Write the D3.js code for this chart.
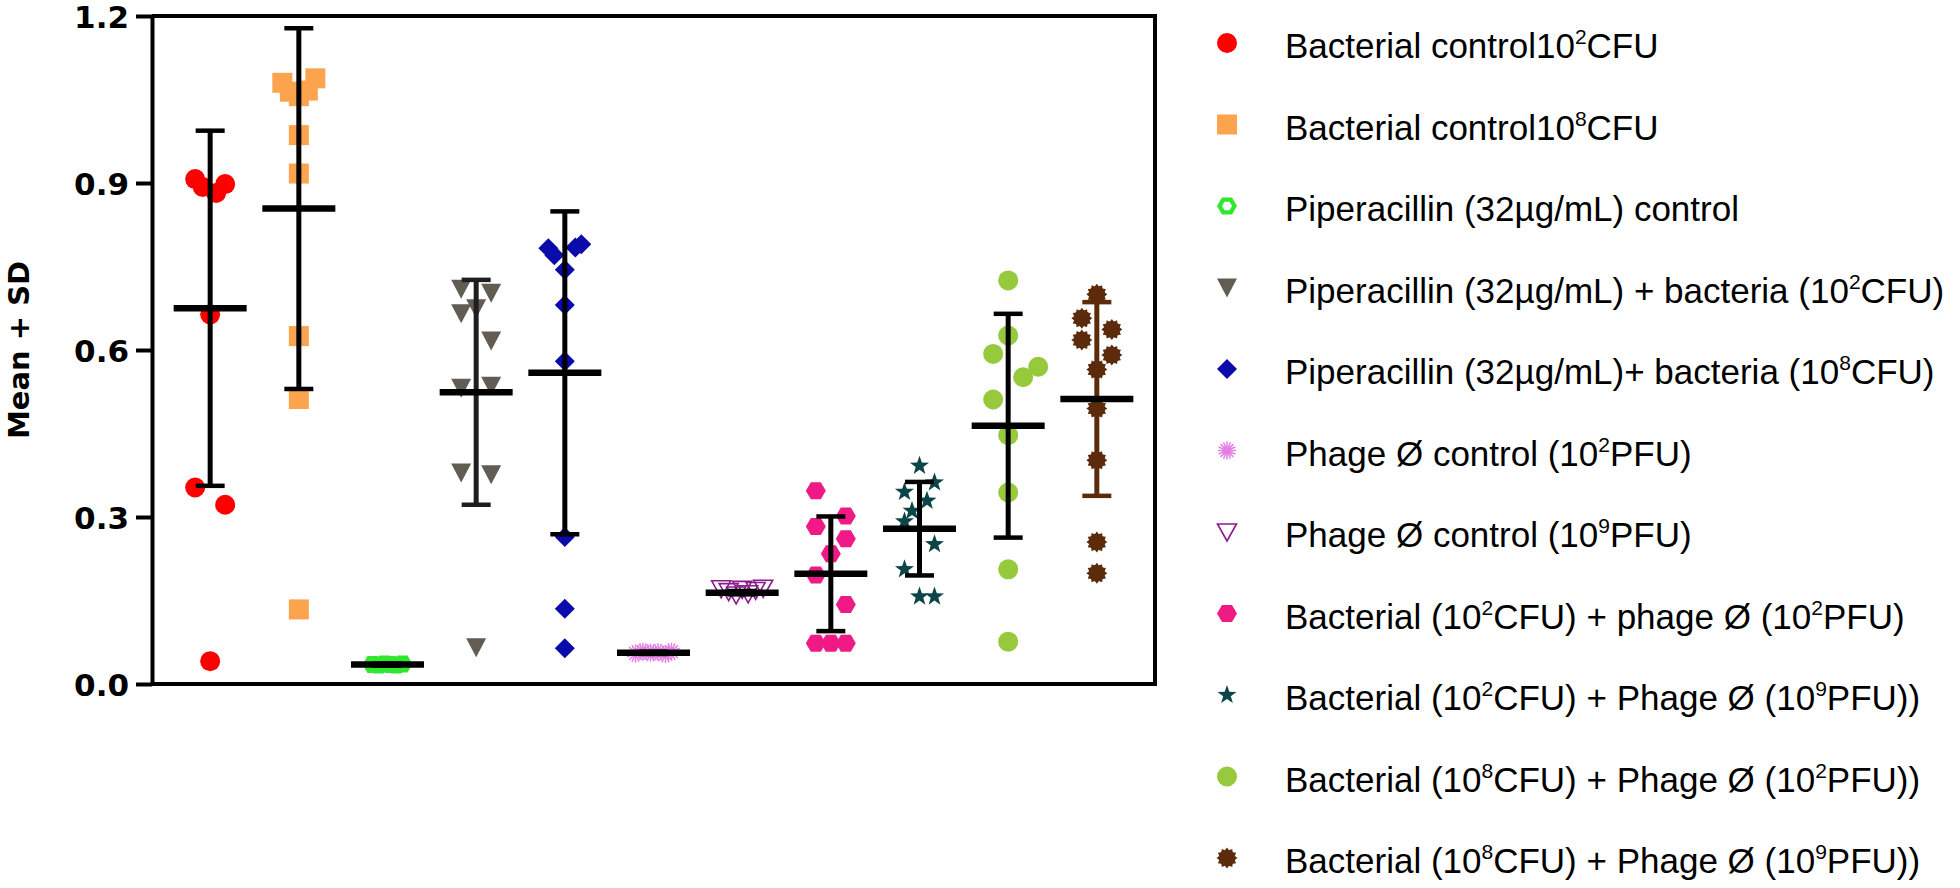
<!DOCTYPE html>
<html>
<head>
<meta charset="utf-8">
<script src="https://cdn.jsdelivr.net/npm/d3@7"></script>
<style>
  html, body { margin: 0; padding: 0; background: #fff; }
  svg { display: block; }
</style>
</head>
<body>
<svg id="chart" width="1960" height="888"></svg>
<script>
// ---------------- DATA ----------------
const groups = ["BC2", "BC8", "PipC", "PipB2", "PipB8", "Ph2", "Ph9", "B2P2", "B2P9", "B8P2", "B8P9"];
const legendLabels = [
  "Bacterial control10^2CFU",
  "Bacterial control10^8CFU",
  "Piperacillin (32µg/mL) control",
  "Piperacillin (32µg/mL) + bacteria (10^2CFU)",
  "Piperacillin (32µg/mL)+ bacteria (10^8CFU)",
  "Phage Ø control (10^2PFU)",
  "Phage Ø control (10^9PFU)",
  "Bacterial (10^2CFU) + phage Ø (10^2PFU)",
  "Bacterial (10^2CFU) + Phage Ø (10^9PFU))",
  "Bacterial (10^8CFU) + Phage Ø (10^2PFU))",
  "Bacterial (10^8CFU) + Phage Ø (10^9PFU))"
];
const means = [0.675, 0.854, 0.035, 0.524, 0.559, 0.056, 0.164, 0.198, 0.279, 0.464, 0.512];
const sds   = [0.319, 0.324, 0.002, 0.202, 0.290, 0.002, 0.003, 0.103, 0.084, 0.201, 0.174];
const yTicks = [0, 0.3, 0.6, 0.9, 1.2];

// points: [value, column slot]
const ptsBC2  = [[0.907,-1],[0.893,-0.5],[0.882,0.4],[0.898,1],[0.664,0],[0.353,-1],[0.322,1],[0.041,0]];
const ptsBC8  = [[1.080,-1.1],[1.064,-0.6],[1.056,0],[1.066,0.6],[1.088,1.1],[0.986,0],[0.917,0],[0.625,0],[0.512,0],[0.134,0]];
const ptsPipC = [[0.035,-1],[0.034,-0.6],[0.036,-0.2],[0.035,0.2],[0.034,0.6],[0.036,1]];
const ptsPipB2= [[0.710,-1],[0.703,1],[0.666,-1],[0.675,0],[0.617,1],[0.532,-1],[0.536,1],[0.380,-1],[0.377,1],[0.066,0]];
const ptsPipB8= [[0.783,-1.1],[0.770,-0.7],[0.784,0.7],[0.790,1.1],[0.744,0],[0.681,0],[0.580,0],[0.264,0],[0.135,0],[0.064,0]];
const ptsPh2  = [[0.055,-1.2],[0.058,-0.7],[0.056,-0.2],[0.057,0.3],[0.054,0.8],[0.058,1.2]];
const ptsPh9  = [[0.171,-1.4],[0.166,-0.9],[0.160,-0.4],[0.170,0],[0.162,0.4],[0.168,0.9],[0.172,1.4]];
const ptsB2P2 = [[0.347,-1],[0.302,1],[0.283,-1],[0.261,1],[0.234,0],[0.196,-1],[0.143,1],[0.073,-1],[0.073,0],[0.073,1]];
const ptsB2P9 = [[0.392,0],[0.362,1],[0.345,-1],[0.329,0.5],[0.311,-0.5],[0.292,-1],[0.251,1],[0.206,-1],[0.157,0],[0.157,1]];
const ptsB8P2 = [[0.725,0],[0.626,0],[0.593,-1],[0.570,2],[0.551,1],[0.511,-1],[0.447,0],[0.344,0],[0.206,0],[0.076,0]];
const ptsB8P9 = [[0.700,0],[0.657,-1],[0.637,1],[0.618,-1],[0.591,1],[0.565,0],[0.495,0],[0.402,0],[0.255,0],[0.199,0]];
const points = [ptsBC2, ptsBC8, ptsPipC, ptsPipB2, ptsPipB8, ptsPh2, ptsPh9, ptsB2P2, ptsB2P9, ptsB8P2, ptsB8P9];

// ---------------- STYLE ----------------
const symbols = ["circle","square","hexhole","tridown","diamond","asterisk","triopen","hexagon","star","circle","gear"];
const colors  = ["#ff0000","#fba34d","#2de82d","#625c53","#0b0bab","#e57ee5","#8b1a8b","#f01a86","#0b4545","#97c93c","#5c2b0b"];
const barColors = ["#000","#000","#000","#1e1e1e","#000","#000","#000","#000","#000","#000","#5c2b0b"];

const L = 152, R = 1155, T = 16, B = 684;
const svg = d3.select("#chart");

const x = d3.scalePoint().domain(groups).range([L, R]).padding(0.656);
const y = d3.scaleLinear().domain([0, 1.2]).range([B, T]);
const colW = 15;

function hexPts(rx, ry) {
  return [[-rx,0],[-rx/2,-ry],[rx/2,-ry],[rx,0],[rx/2,ry],[-rx/2,ry]];
}
function poly(p) { return "M" + p.map(d => d.join(",")).join("L") + "Z"; }
function starPts(n, ro, ri, rot) {
  const p = [];
  for (let i = 0; i < 2*n; i++) {
    const r = i % 2 ? ri : ro;
    const a = rot + i * Math.PI / n;
    p.push([r*Math.sin(a), -r*Math.cos(a)]);
  }
  return p;
}

function drawSymbol(g, type, color) {
  switch (type) {
    case "circle":
      g.append("circle").attr("r", 10).attr("fill", color); break;
    case "square":
      g.append("rect").attr("x",-10).attr("y",-10).attr("width",20).attr("height",20).attr("fill", color); break;
    case "hexagon":
    case "hexhole":
      g.append("path").attr("d", poly(hexPts(10, 8.5))).attr("fill", color); break;
    case "tridown":
      g.append("path").attr("d", poly([[-10,-9],[10,-9],[0,10]])).attr("fill", color); break;
    case "triopen":
      g.append("path").attr("d", poly([[-9.5,-8],[9.5,-8],[0,9]])).attr("fill", "none")
        .attr("stroke", color).attr("stroke-width", 1.6); break;
    case "diamond":
      g.append("path").attr("d", poly([[0,-10],[10,0],[0,10],[-10,0]])).attr("fill", color); break;
    case "asterisk": {
      let d = "";
      for (let i = 0; i < 8; i++) {
        const a = i * Math.PI / 8;
        d += `M${(-9*Math.cos(a)).toFixed(2)},${(-9*Math.sin(a)).toFixed(2)}L${(9*Math.cos(a)).toFixed(2)},${(9*Math.sin(a)).toFixed(2)}`;
      }
      g.append("path").attr("d", d).attr("stroke", color).attr("stroke-width", 1.5).attr("fill","none");
      break;
    }
    case "star":
      g.append("path").attr("d", poly(starPts(5, 10, 4, 0))).attr("fill", color); break;
    case "gear":
      g.append("path").attr("d", poly(starPts(12, 10.5, 8, 0))).attr("fill", color);
      g.append("circle").attr("r", 8.2).attr("fill", color);
      break;
  }
}

// ---------------- POINTS ----------------
const gPts = svg.append("g");
points.forEach((pts, gi) => {
  pts.forEach(([v, c]) => {
    const g = gPts.append("g").attr("transform", `translate(${x(groups[gi]) + c*colW},${y(v)})`);
    drawSymbol(g, symbols[gi], colors[gi]);
  });
});

// ---------------- ERROR BARS ----------------
const gBars = svg.append("g");
groups.forEach((gname, gi) => {
  const cx = x(gname), m = means[gi], s = sds[gi], col = barColors[gi];
  gBars.append("line").attr("x1", cx).attr("x2", cx).attr("y1", y(m + s)).attr("y2", y(m - s))
    .attr("stroke", col).attr("stroke-width", 5);
  [m + s, m - s].forEach(v => {
    gBars.append("line").attr("x1", cx - 14.5).attr("x2", cx + 14.5).attr("y1", y(v)).attr("y2", y(v))
      .attr("stroke", col).attr("stroke-width", 4.5);
  });
  gBars.append("line").attr("x1", cx - 36.5).attr("x2", cx + 36.5).attr("y1", y(m)).attr("y2", y(m))
    .attr("stroke", "#000").attr("stroke-width", 6.5);
});

// ---------------- AXES / FRAME ----------------
const yAxis = d3.axisLeft(y).tickValues(yTicks).tickFormat(d3.format(".1f"))
  .tickSize(16).tickSizeOuter(0).tickPadding(7);
const ga = svg.append("g").attr("transform", `translate(${L},0)`).call(yAxis);
ga.select(".domain").attr("stroke", "#000").attr("stroke-width", 4);
ga.selectAll(".tick line").attr("stroke", "#000").attr("stroke-width", 4);
ga.selectAll(".tick text").attr("font-family", "DejaVu Sans, sans-serif").attr("font-weight", "bold")
  .attr("font-size", 31).attr("fill", "#000").attr("dy", "0.36em");

svg.append("path").attr("d", `M${L},${T}H${R}V${B}H${L}`).attr("fill", "none")
  .attr("stroke", "#000").attr("stroke-width", 4).attr("stroke-linejoin", "miter");

svg.append("text").attr("transform", `translate(29,${(T+B)/2}) rotate(-90)`)
  .attr("text-anchor", "middle").attr("font-family", "DejaVu Sans, sans-serif").attr("font-weight", "bold")
  .attr("font-size", 29).attr("fill", "#000").text("Mean + SD");

// ---------------- LEGEND ----------------
const legY0 = 58, legStep = 81.5, legMarkX = 1227, legTextX = 1285;
legendLabels.forEach((lab, i) => {
  const by = legY0 + i * legStep;
  const mg = svg.append("g").attr("transform", `translate(${legMarkX},${by - 15})`);
  drawSymbol(mg, symbols[i], colors[i]);
  if (symbols[i] === "hexhole") {
    mg.append("path").attr("d", poly(hexPts(5, 4.3))).attr("fill", "#fff");
  }
  const t = svg.append("text").attr("x", legTextX).attr("y", by)
    .attr("font-family", "Liberation Sans, Arial, sans-serif").attr("font-size", 35).attr("fill", "#000");
  const parts = lab.split(/\^(\d)/);
  parts.forEach((p, k) => {
    if (k % 2 === 1) {
      t.append("tspan").attr("font-size", 21).attr("dy", -14).text(p);
    } else if (p.length) {
      const ts = t.append("tspan").text(p);
      if (k > 0) ts.attr("dy", 14);
    }
  });
});
</script>
</body>
</html>
